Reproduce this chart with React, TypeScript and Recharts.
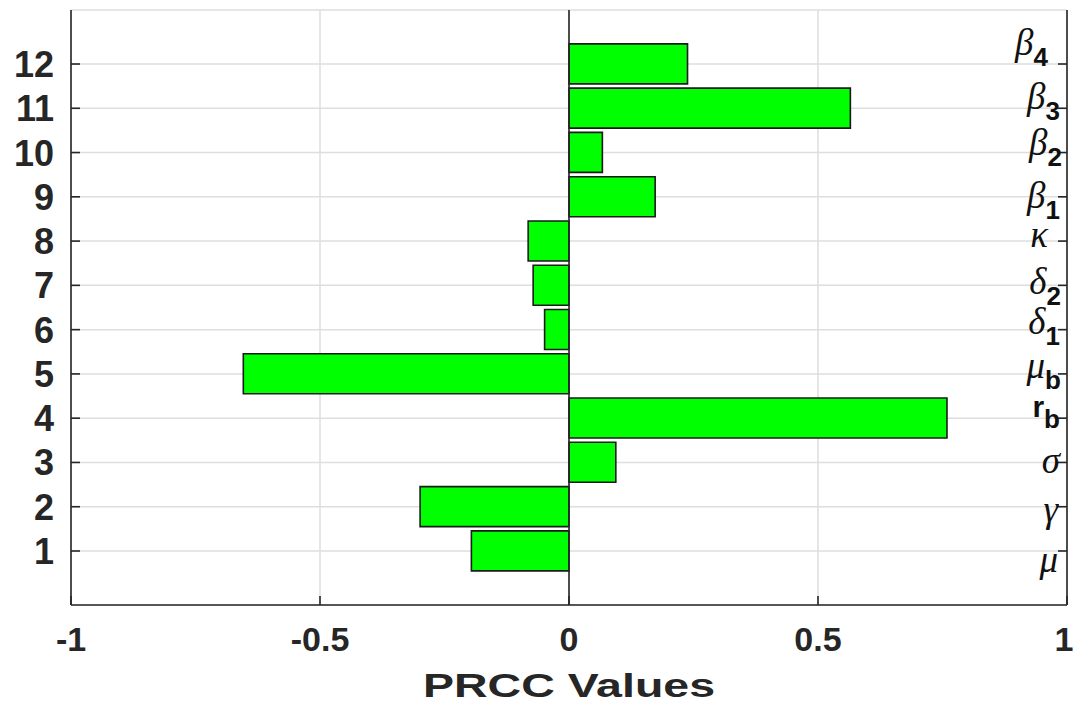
import React from 'react';
import { BarChart, Bar, XAxis, YAxis, CartesianGrid, ReferenceLine, Label } from 'recharts';

// ---- data ----
const categories = [1, 2, 3, 4, 5, 6, 7, 8, 9, 10, 11, 12];
const prccValues = [-0.196, -0.299, 0.094, 0.759, -0.654, -0.049, -0.072, -0.082, 0.173, 0.067, 0.565, 0.238];
const paramSymbols = ['μ', 'γ', 'σ', 'r', 'μ', 'δ', 'δ', 'κ', 'β', 'β', 'β', 'β'];
const paramSubscripts = ['', '', '', 'b', 'b', '1', '2', '', '1', '2', '3', '4'];
const xTicks = [-1, -0.5, 0, 0.5, 1];
const yTicks = categories;

// ---- label layout (vertical baseline shift from gridline, right inset) ----
const labelShift = [21, 15, 11, -1, 4, 4, 9, 6, 11, 2, 1, -9];
const labelInset = [9, 9, 7, 7, 6, 7, 6, 19, 7, 5, 7, 19];

const data = categories.map((c, i) => ({ cat: c, prcc: prccValues[i] }));

// ---- layout ----
const CHART_W = 1073;
const CHART_H = 704;
const MARGIN = { top: 10, right: 6, bottom: 0, left: 0 };
const LEFT_AXIS_W = 71;
const PLOT_RIGHT = CHART_W - MARGIN.right;

const Y_DOMAIN: [number, number] = [-0.22, 13.22];
const X_DOMAIN: [number, number] = [-1, 1];
const TICK_LEN = 9;
const AXIS_COLOR = '#262626';
const SANS = '"Liberation Sans", Arial, Helvetica, sans-serif';
const SERIF = '"Liberation Serif", "DejaVu Serif", serif';
const axisLine = { stroke: AXIS_COLOR, strokeWidth: 1.6 };

const ParamLabel = ({ i, y }: { i: number; y: number }) => {
  const sym = paramSymbols[i];
  const sub = paramSubscripts[i];
  const greek = sym !== 'r';
  return (
    <text x={PLOT_RIGHT - labelInset[i]} y={y + labelShift[i]} textAnchor="end" fill="#111">
      <tspan
        fontFamily={greek ? SERIF : SANS}
        fontStyle={greek ? 'italic' : 'normal'}
        fontWeight={greek ? 400 : 700}
        fontSize={greek ? 37 : 30}
      >
        {sym}
      </tspan>
      {sub ? (
        <tspan dy={11} fontFamily={SANS} fontWeight={700} fontSize={26}>
          {sub}
        </tspan>
      ) : null}
    </text>
  );
};

const LeftTick = (props: any) => {
  const { x, y, payload } = props;
  const i = categories.indexOf(payload.value);
  return (
    <g>
      <line x1={x} x2={x + TICK_LEN} y1={y} y2={y} stroke={AXIS_COLOR} strokeWidth={1.6} />
      <text x={x - 17} y={y} dy="0.36em" textAnchor="end" fontFamily={SANS} fontWeight={700} fontSize={36} fill={AXIS_COLOR}>
        {payload.value}
      </text>
      <line x1={PLOT_RIGHT - TICK_LEN} x2={PLOT_RIGHT} y1={y} y2={y} stroke={AXIS_COLOR} strokeWidth={1.6} />
      {i >= 0 ? <ParamLabel i={i} y={y} /> : null}
    </g>
  );
};

const BottomTick = (props: any) => {
  const { x, y, payload, index } = props;
  const last = index === xTicks.length - 1;
  return (
    <g>
      <line x1={x} x2={x} y1={y} y2={y - TICK_LEN} stroke={AXIS_COLOR} strokeWidth={1.6} />
      <text
        x={last ? x - 3 : x}
        y={y + 46}
        textAnchor="middle"
        fontFamily={SANS}
        fontWeight={700}
        fontSize={34}
        fill={AXIS_COLOR}
      >
        {String(payload.value)}
      </text>
    </g>
  );
};

const TopTick = (props: any) => {
  const { x, y } = props;
  return <line x1={x} x2={x} y1={y} y2={y + TICK_LEN} stroke={AXIS_COLOR} strokeWidth={1.6} />;
};

const XLabel = (props: any) => {
  const vb = props.viewBox || {};
  const cx = (vb.x || 0) + (vb.width || 0) / 2;
  return (
    <text
      x={cx}
      y={(vb.y || 0) + 92}
      textAnchor="middle"
      fontFamily={SANS}
      fontWeight={700}
      fontSize={34}
      fill={AXIS_COLOR}
      textLength={292}
      lengthAdjust="spacingAndGlyphs"
    >
      PRCC Values
    </text>
  );
};

export default function App() {
  return (
    <div style={{ position: 'absolute', left: 0, top: 0, width: CHART_W, height: CHART_H, background: '#fff' }}>
      <BarChart width={CHART_W} height={CHART_H} data={data} layout="vertical" margin={MARGIN}>
        <CartesianGrid stroke="#dedede" strokeWidth={1.5} />
        <XAxis
          type="number"
          dataKey="prcc"
          domain={X_DOMAIN}
          ticks={xTicks}
          allowDataOverflow
          interval={0}
          height={99}
          tickSize={0}
          tickMargin={0}
          tickLine={false}
          axisLine={axisLine}
          tick={BottomTick}
        >
          <Label content={XLabel} />
        </XAxis>
        <XAxis
          xAxisId="top"
          orientation="top"
          type="number"
          domain={X_DOMAIN}
          ticks={xTicks}
          allowDataOverflow
          interval={0}
          height={0}
          tickSize={0}
          tickMargin={0}
          tickLine={false}
          axisLine={axisLine}
          tick={TopTick}
        />
        <YAxis
          type="number"
          dataKey="cat"
          domain={Y_DOMAIN}
          ticks={yTicks}
          reversed
          allowDataOverflow
          interval={0}
          width={LEFT_AXIS_W}
          tickSize={0}
          tickMargin={0}
          tickLine={false}
          axisLine={axisLine}
          tick={LeftTick}
        />
        <ReferenceLine x={1} stroke={AXIS_COLOR} strokeWidth={1.6} />
        <ReferenceLine x={0} stroke={AXIS_COLOR} strokeWidth={1.6} />
        <Bar
          dataKey="prcc"
          fill="#00ff00"
          stroke="#1a1a1a"
          strokeWidth={1.6}
          barSize={40}
          isAnimationActive={false}
        />
      </BarChart>
    </div>
  );
}
